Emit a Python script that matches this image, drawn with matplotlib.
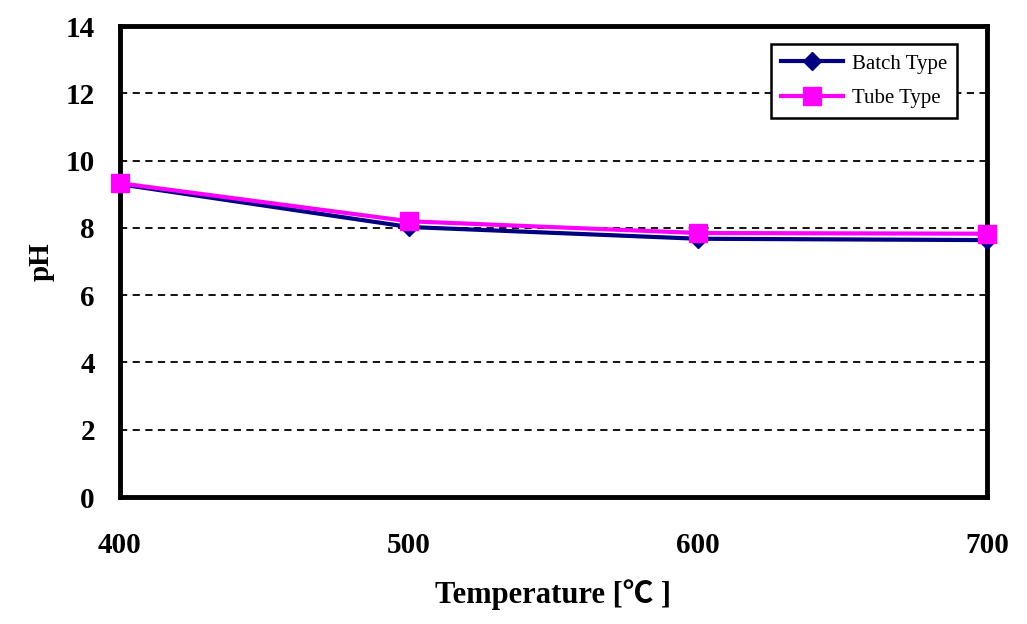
import matplotlib.pyplot as plt

# temperatures and measured pH
temps = [400, 500, 600, 700]
batch_ph = [9.30, 8.03, 7.68, 7.64]
tube_ph = [9.33, 8.20, 7.85, 7.83]

plt.rcParams['font.family'] = ['Liberation Serif', 'DejaVu Sans']

fig = plt.figure(figsize=(10.27, 6.24), dpi=100)
ax = fig.add_axes([0.1168, 0.2035, 0.8442, 0.7545])

ax.plot(temps, batch_ph, color='#000080', lw=3, marker='D', ms=9,
        label='Batch Type', clip_on=False, zorder=3)
ax.plot(temps, tube_ph, color='#ff00ff', lw=3, marker='s', ms=13,
        label='Tube Type', clip_on=False, zorder=4)

ax.set_xlim(400, 700)
ax.set_ylim(0, 14)
ax.set_xticks(temps)
ax.set_yticks(range(0, 15, 2))
ax.yaxis.grid(True, color='black', ls=(0, (4, 3)), lw=1.3)
ax.set_axisbelow(True)

for s in ax.spines.values():
    s.set_linewidth(3.5)
    s.set_color('black')

ax.tick_params(length=0, labelsize=21)
ax.tick_params(axis='x', pad=25)
ax.tick_params(axis='y', pad=18)
for lab in ax.get_xticklabels() + ax.get_yticklabels():
    lab.set_fontweight('bold')

ax.set_ylabel('pH', fontsize=21, fontweight='bold', labelpad=8)
ax.set_xlabel('Temperature [℃ ]', fontsize=22, fontweight='bold',
              family=['Liberation Serif', 'Noto Sans CJK SC', 'DejaVu Sans'],
              labelpad=15)

leg = ax.legend(loc='upper right', bbox_to_anchor=(0.978, 0.985), fontsize=15,
                fancybox=False, framealpha=1, edgecolor='black',
                handlelength=3.0, borderpad=0.5, labelspacing=0.7,
                handletextpad=0.4)
leg.get_frame().set_linewidth(1.8)

fig.savefig('out.png', dpi=100)
